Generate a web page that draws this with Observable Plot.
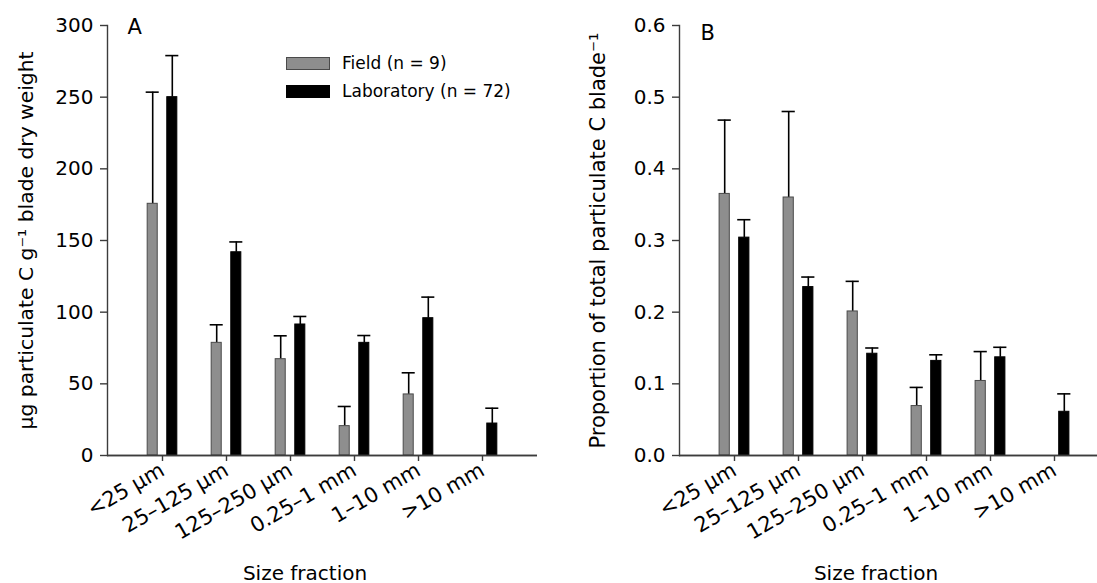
<!DOCTYPE html>
<html>
<head>
<meta charset="utf-8">
<script src="https://cdn.jsdelivr.net/npm/d3@7"></script>
<script src="https://cdn.jsdelivr.net/npm/@observablehq/plot@0.6"></script>
<style>
  html, body { margin: 0; padding: 0; background: #fff; overflow: hidden; }
  #root { position: relative; width: 1097px; height: 583px; font-family: "DejaVu Sans", sans-serif; color: #000; }
  .panel { position: absolute; top: 0; }
  .xlabel { position: absolute; top: 561px; font-size: 20px; line-height: 24px; white-space: nowrap; transform: translateX(-50%); }
  .legend { position: absolute; left: 286px; top: 56px; font-size: 17px; }
  .legend .row { display: flex; align-items: center; height: 14px; margin-bottom: 14px; white-space: nowrap; }
  .legend .sw { width: 44px; height: 13px; margin-right: 12px; box-sizing: border-box; }
</style>
</head>
<body>
<div id="root"></div>
<script>
// ---- data ----
const categories = ["<25 μm", "25–125 μm", "125–250 μm", "0.25–1 mm", "1–10 mm", ">10 mm"];
const series = ["Field (n = 9)", "Laboratory (n = 72)"];

// Panel A: μg particulate C g⁻¹ blade dry weight (mean, SE)
const carbonField   = [175.6, 78.6, 67.2, 20.5, 42.6, null];
const carbonFieldSE = [77.9, 12.6, 16.3, 13.7, 15.1, null];
const carbonLab     = [250.0, 141.8, 91.4, 78.6, 95.8, 22.3];
const carbonLabSE   = [29.0, 7.2, 5.6, 5.1, 14.7, 10.7];
const carbonTicks   = [0, 50, 100, 150, 200, 250, 300];

// Panel B: proportion of total particulate C blade⁻¹ (mean, SE)
const propField   = [0.365, 0.360, 0.201, 0.069, 0.104, null];
const propFieldSE = [0.103, 0.120, 0.042, 0.026, 0.041, null];
const propLab     = [0.304, 0.235, 0.142, 0.132, 0.137, 0.061];
const propLabSE   = [0.025, 0.014, 0.008, 0.0085, 0.014, 0.025];
const propTicks   = [0, 0.1, 0.2, 0.3, 0.4, 0.5, 0.6];

const seriesColors = ["#8e8e8e", "#000000"];
const xLabel = "Size fraction";

// ---- helpers ----
function rowsFor(field, fieldSE, lab, labSE) {
  const rows = [];
  categories.forEach((c, i) => {
    rows.push({category: c, series: series[0], value: field[i], se: fieldSE[i]});
    rows.push({category: c, series: series[1], value: lab[i], se: labSE[i]});
  });
  return rows.filter(d => d.value != null);
}

const AX = "#3c3c3c";
const AXW = 1.4;

function panel({rows, domain, ticks, tickFormat, yLabel, yLabelSize, letter, width, marginLeft, marginRight, letterDx, letterDy}) {
  const rangeW = width - marginLeft - marginRight;
  const paddingOuter = 0.31;
  const bw = rangeW / (categories.length + 2 * paddingOuter);
  const offsets = [-9.8, 9.8];
  const marks = [];
  series.forEach((s, i) => {
    const data = rows.filter(d => d.series === s);
    const dx = offsets[i];
    const barInset = (bw - 11) / 2;
    const capInset = (bw - 14) / 2;
    marks.push(
      Plot.ruleX(data, {x: "category", y1: "value", y2: d => d.value + d.se, stroke: "#000", strokeWidth: 1.6, dx}),
      Plot.tickY(data, {x: "category", y: d => d.value + d.se, stroke: "#000", strokeWidth: 1.6, dx, insetLeft: capInset, insetRight: capInset}),
      Plot.barY(data, {x: "category", y: "value", fill: "series", stroke: i === 0 ? "#4a4a4a" : "#000", strokeWidth: 1, dx, insetLeft: barInset, insetRight: barInset})
    );
  });
  return Plot.plot({
    width, height: 583,
    marginTop: 25, marginBottom: 128, marginLeft, marginRight,
    style: {fontFamily: "'DejaVu Sans', sans-serif", background: "transparent", color: "#000", overflow: "visible"},
    x: {domain: categories, paddingInner: 0, paddingOuter, axis: null},
    y: {domain, axis: null},
    color: {domain: series, range: seriesColors},
    marks: [
      Plot.axisY({ticks, tickFormat, tickSize: 7, tickPadding: 7, fontSize: 20, stroke: AX, strokeWidth: AXW, label: null}),
      Plot.axisX({tickSize: 6, tickPadding: 7, tickRotate: -30, fontSize: 21, stroke: AX, strokeWidth: AXW, label: null}),
      ...marks,
      Plot.frame({anchor: "left", stroke: AX, strokeWidth: AXW}),
      Plot.text([yLabel], {frameAnchor: "left", rotate: -90, dx: -81, fontSize: yLabelSize, lineAnchor: "middle", textAnchor: "middle"}),
      Plot.text([letter], {frameAnchor: "top-left", textAnchor: "start", dx: letterDx, dy: letterDy, fontSize: 21}),
      Plot.gridY({ticks: [domain[0]], stroke: AX, strokeOpacity: 1, strokeWidth: 1.6}),
      Plot.ruleY([domain[0]], {stroke: AX, strokeWidth: 1.6})
    ]
  });
}

const root = document.getElementById("root");

const plotA = panel({
  rows: rowsFor(carbonField, carbonFieldSE, carbonLab, carbonLabSE),
  domain: [0, 300], ticks: carbonTicks, tickFormat: d3.format("d"),
  yLabel: "μg particulate C g⁻¹ blade dry weight", yLabelSize: 20.3, letter: "A",
  width: 550, marginLeft: 107, marginRight: 13, letterDx: 20, letterDy: -6
});
plotA.classList.add("panel");
plotA.style.left = "0px";
root.appendChild(plotA);

const plotB = panel({
  rows: rowsFor(propField, propFieldSE, propLab, propLabSE),
  domain: [0, 0.6], ticks: propTicks, tickFormat: d3.format(".1f"),
  yLabel: "Proportion of total particulate C blade⁻¹", yLabelSize: 21, letter: "B",
  width: 560, marginLeft: 129, marginRight: 2, letterDx: 21, letterDy: 0
});
plotB.classList.add("panel");
plotB.style.left = "550px";
root.appendChild(plotB);

// x-axis titles
[[305, xLabel], [876, xLabel]].forEach(([cx, t]) => {
  const d = document.createElement("div");
  d.className = "xlabel";
  d.style.left = cx + "px";
  d.textContent = t;
  root.appendChild(d);
});

// legend
const legend = document.createElement("div");
legend.className = "legend";
series.forEach((s, i) => {
  const row = document.createElement("div");
  row.className = "row";
  const sw = document.createElement("div");
  sw.className = "sw";
  sw.style.background = seriesColors[i];
  sw.style.border = "1px solid " + (i === 0 ? "#4a4a4a" : "#000");
  const tx = document.createElement("span");
  tx.textContent = s;
  row.appendChild(sw); row.appendChild(tx);
  legend.appendChild(row);
});
root.appendChild(legend);
</script>
</body>
</html>
